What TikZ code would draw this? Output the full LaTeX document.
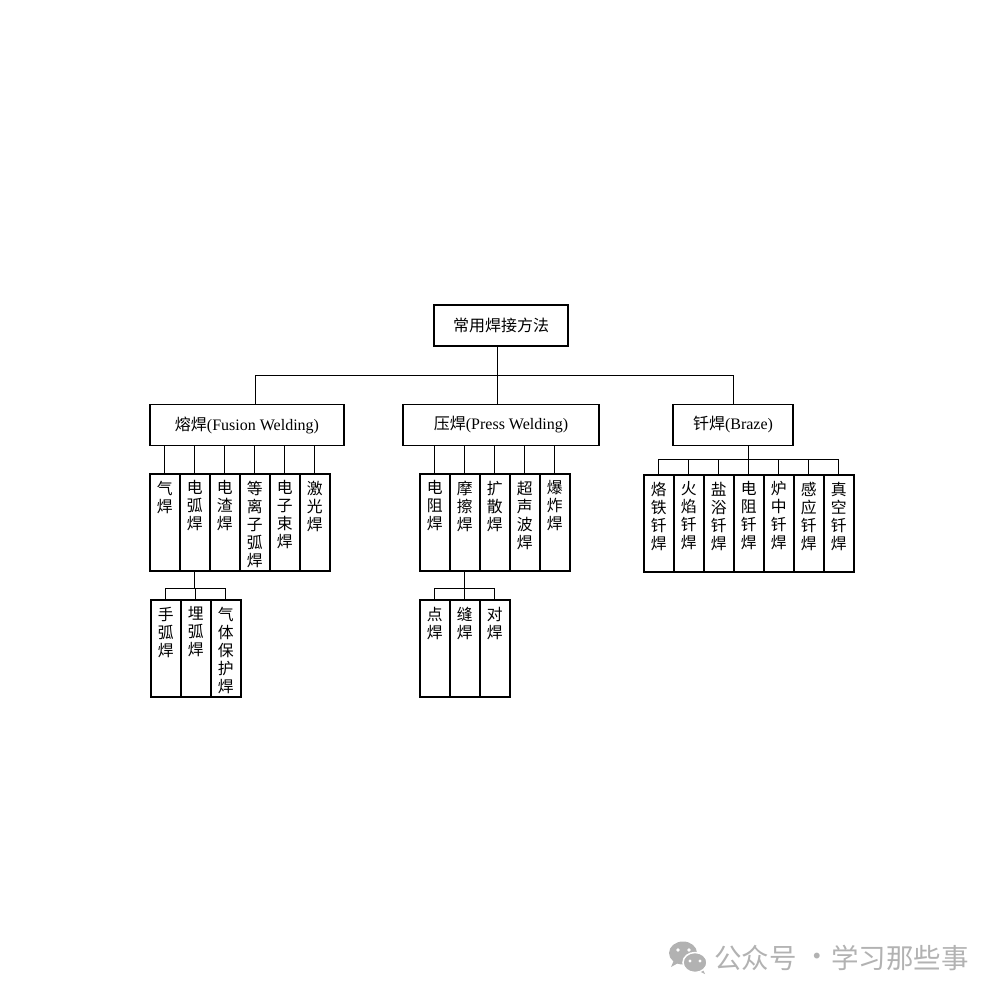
\documentclass[tikz,border=0pt]{standalone}
\usepackage{fontspec}
\setmainfont{Liberation Serif}
\newfontfamily\cjk{Noto Sans CJK SC}
\newcommand{\vtext}[1]{\parbox[c][83pt][t]{30pt}{\centering\cjk #1}}
\begin{document}
\begin{tikzpicture}[x=1pt,y=-1pt,
  box/.style={draw=black,line width=1.5pt,rectangle,inner xsep=0pt,inner ysep=7pt,
    font=\fontsize{15.8}{18}\selectfont},
  wide/.style={box,inner ysep=0pt,minimum height=41pt,font=\fontsize{16}{18}\selectfont},
  tall/.style={box,minimum width=30pt,minimum height=97pt,anchor=north west},
  link/.style={draw=black,line width=1pt},
  wm/.style={text=gray!60,font=\cjk\fontsize{27.5}{29}\selectfont,inner sep=0pt},
  wmicon/.style={fill=gray!60,draw=white,line width=1.5pt}]
\useasboundingbox (0,0) rectangle (1000,1000);

% level 0 and 1
\node[wide,minimum width=134pt] (root) at (501,325.5) {\cjk 常用焊接方法};
\node[wide,minimum width=194pt] (fusion) at (247,425) {{\cjk 熔焊}(Fusion Welding)};
\node[wide,minimum width=196pt] (press) at (501,425) {{\cjk 压焊}(Press Welding)};
\node[wide,minimum width=120pt] (braze) at (733,425) {{\cjk 钎焊}(Braze)};

% fusion children
\node[tall] (f1) at (149,473) {\vtext{气\\焊}};
\node[tall] (f2) at (179,473) {\vtext{电\\弧\\焊}};
\node[tall] (f3) at (209,473) {\vtext{电\\渣\\焊}};
\node[tall] (f4) at (239,473) {\vtext{等\\离\\子\\弧\\焊}};
\node[tall] (f5) at (269,473) {\vtext{电\\子\\束\\焊}};
\node[tall] (f6) at (299,473) {\vtext{激\\光\\焊}};

% press children
\node[tall] (p1) at (419,473) {\vtext{电\\阻\\焊}};
\node[tall] (p2) at (449,473) {\vtext{摩\\擦\\焊}};
\node[tall] (p3) at (479,473) {\vtext{扩\\散\\焊}};
\node[tall] (p4) at (509,473) {\vtext{超\\声\\波\\焊}};
\node[tall] (p5) at (539,473) {\vtext{爆\\炸\\焊}};

% braze children
\node[tall] (b1) at (643,474) {\vtext{烙\\铁\\钎\\焊}};
\node[tall] (b2) at (673,474) {\vtext{火\\焰\\钎\\焊}};
\node[tall] (b3) at (703,474) {\vtext{盐\\浴\\钎\\焊}};
\node[tall] (b4) at (733,474) {\vtext{电\\阻\\钎\\焊}};
\node[tall] (b5) at (763,474) {\vtext{炉\\中\\钎\\焊}};
\node[tall] (b6) at (793,474) {\vtext{感\\应\\钎\\焊}};
\node[tall] (b7) at (823,474) {\vtext{真\\空\\钎\\焊}};

% arc welding children
\node[tall] (a1) at (150,599) {\vtext{手\\弧\\焊}};
\node[tall] (a2) at (180,599) {\vtext{埋\\弧\\焊}};
\node[tall] (a3) at (210,599) {\vtext{气\\体\\保\\护\\焊}};

% resistance welding children
\node[tall] (s1) at (419,599) {\vtext{点\\焊}};
\node[tall] (s2) at (449,599) {\vtext{缝\\焊}};
\node[tall] (s3) at (479,599) {\vtext{对\\焊}};

% connectors
\coordinate (trunk) at (497,375);
\coordinate (bl) at (255,375);
\coordinate (br) at (733,375);
\draw[link] (root.south -| trunk) -- (press.north -| trunk);
\draw[link] (fusion.north -| bl) -- (bl) -- (br) -- (braze.north);

\foreach \n in {f1,f2,f3,f4,f5,f6}
  \draw[link] (\n.north) -- (\n.north |- fusion.south);
\foreach \n in {p1,p2,p3,p4,p5}
  \draw[link] (\n.north) -- (\n.north |- press.south);

\coordinate (bb) at (0,459);
\draw[link] (b4.north |- braze.south) -- (b4.north);
\draw[link] (b1.north |- bb) -- (b7.north |- bb);
\foreach \n in {b1,b2,b3,b4,b5,b6,b7}
  \draw[link] (\n.north) -- (\n.north |- bb);

\coordinate (ab) at (0,588);
\draw[link] (f2.south) -- (f2.south |- ab);
\draw[link] (a1.north |- ab) -- (a3.north |- ab);
\foreach \n in {a1,a2,a3}
  \draw[link] (\n.north) -- (\n.north |- ab);

\draw[link] (p2.south) -- (p2.south |- ab);
\draw[link] (s1.north |- ab) -- (s3.north |- ab);
\foreach \n in {s1,s2,s3}
  \draw[link] (\n.north) -- (\n.north |- ab);

% watermark
\fill[gray!60] (674,960) -- (671,967) -- (680,962) -- cycle;
\fill[gray!60] (683,953) ellipse [x radius=14, y radius=11.5];
\fill[white] (678,950) circle [radius=1.8];
\fill[white] (689,950) circle [radius=1.8];
\fill[gray!60] (702,968) -- (705,974) -- (697,970) -- cycle;
\path[wmicon] (695,962.5) ellipse [x radius=12, y radius=10];
\fill[white] (690,961) circle [radius=1.6];
\fill[white] (700,961) circle [radius=1.6];
\node[wm,anchor=west] (w1) at (714,958) {公众号};
\node[wm] (w2) at (817,960) {·};
\node[wm,anchor=west] (w3) at (831,958) {学习那些事};
\end{tikzpicture}
\end{document}
